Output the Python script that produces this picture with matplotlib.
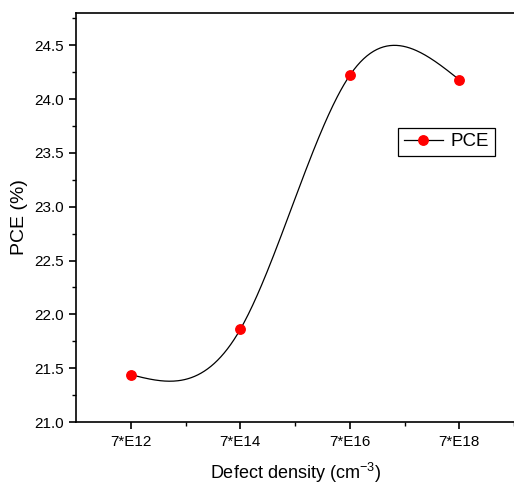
import matplotlib.pyplot as plt
import numpy as np
from matplotlib.ticker import MultipleLocator

plt.rcParams['font.family'] = ['Liberation Sans', 'DejaVu Sans']
plt.rcParams['mathtext.fontset'] = 'custom'
plt.rcParams['mathtext.rm'] = 'Liberation Sans'
plt.rcParams['mathtext.it'] = 'Liberation Sans:italic'
plt.rcParams['mathtext.default'] = 'regular'

# data
labels = ['7*E12', '7*E14', '7*E16', '7*E18']
pce = [21.44, 21.86, 24.22, 24.18]


def natural_spline(x, y, xs):
    # plain natural cubic spline, no scipy needed
    x = np.asarray(x, float)
    y = np.asarray(y, float)
    n = len(x)
    h = np.diff(x)
    A = np.zeros((n, n))
    b = np.zeros(n)
    A[0, 0] = 1
    A[-1, -1] = 1
    for i in range(1, n - 1):
        A[i, i - 1] = h[i - 1]
        A[i, i] = 2 * (h[i - 1] + h[i])
        A[i, i + 1] = h[i]
        b[i] = 3 * ((y[i + 1] - y[i]) / h[i] - (y[i] - y[i - 1]) / h[i - 1])
    c = np.linalg.solve(A, b)
    out = np.empty_like(xs)
    for k, xv in enumerate(xs):
        i = min(np.searchsorted(x, xv, side='right') - 1, n - 2)
        i = max(i, 0)
        dx = xv - x[i]
        bi = (y[i + 1] - y[i]) / h[i] - h[i] * (2 * c[i] + c[i + 1]) / 3
        di = (c[i + 1] - c[i]) / (3 * h[i])
        out[k] = y[i] + bi * dx + c[i] * dx ** 2 + di * dx ** 3
    return out


xpos = np.arange(1, len(labels) + 1)
xs = np.linspace(xpos[0], xpos[-1], 300)
ys = natural_spline(xpos, pce, xs)

fig = plt.figure(figsize=(5.14, 4.9), dpi=100)
ax = fig.add_axes([76 / 514, 68 / 490, 438 / 514, 409 / 490])

ax.plot(xs, ys, color='black', lw=0.9)
ax.plot(xpos, pce, 'o', color='red', ms=6.8, markeredgecolor='red')
# legend handle: line + marker
ax.plot([], [], '-o', color='black', mfc='red', mec='red', ms=6.8, lw=0.9, label='PCE')

ax.set_xlim(0.5, 0.5 + 438 / 111)
ax.set_ylim(21.0, 24.8)
ax.set_xticks(xpos)
ax.set_xticklabels(labels)
ax.set_xticks(xpos + 0.5, minor=True)
ax.yaxis.set_major_locator(MultipleLocator(0.5))
ax.yaxis.set_minor_locator(MultipleLocator(0.25))
ax.yaxis.set_major_formatter(plt.FormatStrFormatter('%.1f'))

ax.spines['right'].set_visible(False)
for s in ['left', 'bottom', 'top']:
    ax.spines[s].set_linewidth(1.2)
ax.tick_params(which='major', direction='out', length=5, width=1.2,
               labelsize=11, pad=4)
ax.tick_params(which='minor', direction='out', length=3, width=1.0)

ax.set_xlabel('Defect density (cm$^{-3}$)', fontsize=13, labelpad=9)
ax.set_ylabel('PCE (%)', fontsize=14, labelpad=4)

ax.legend(loc='upper left', bbox_to_anchor=(0.735, 0.72), borderaxespad=0,
          fancybox=False, edgecolor='black', fontsize=13.5, handlelength=2.1,
          borderpad=0.3, handletextpad=0.4, framealpha=1)
ax.get_legend().get_frame().set_linewidth(0.9)

fig.savefig('out.png', dpi=100)
